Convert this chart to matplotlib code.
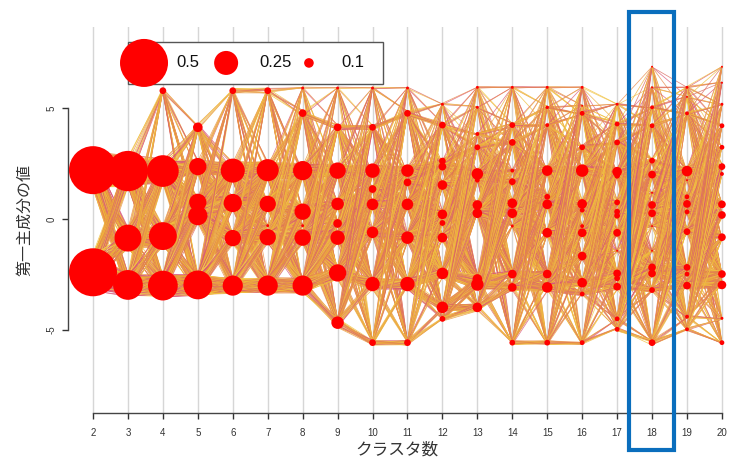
import numpy as np
import matplotlib.pyplot as plt
from matplotlib.collections import LineCollection
from matplotlib.patches import Rectangle

plt.rcParams['font.family'] = ['Liberation Sans', 'Noto Sans CJK JP', 'DejaVu Sans']

# cluster count on the x axis
n_clusters = list(range(2, 21))

# PC1 centre of every cluster, one list per cluster count
pc1_centers = [
    [2.2, -2.4],
    [2.16, -0.86, -2.97],
    [5.78, 2.16, -0.77, -3.0],
    [4.13, 2.36, 0.75, 0.15, -2.97],
    [5.78, 2.18, 0.72, -0.86, -3.0],
    [5.78, 2.2, 0.68, -0.3, -0.82, -3.0],
    [5.9, 4.77, 2.18, 0.33, -0.3, -0.84, -3.0],
    [5.9, 4.13, 2.18, 0.68, -0.2, -0.84, -2.43, -4.67],
    [5.9, 4.13, 2.18, 1.35, 0.66, -0.6, -2.93, -5.57],
    [5.9, 4.76, 2.18, 1.65, 0.66, -0.84, -2.93, -5.57],
    [5.17, 4.23, 2.61, 2.36, 1.53, 0.21, -0.18, -0.84, -2.45, -3.98, -4.5],
    [5.93, 5.03, 3.83, 3.23, 2.03, 1.75, 0.63, 0.26, -2.7, -2.95, -3.98],
    [5.93, 4.23, 3.45, 2.18, 1.68, 0.71, 0.26, -0.32, -2.48, -3.08, -5.57],
    [5.93, 5.03, 4.23, 2.18, 1.0, 0.66, -0.62, -2.48, -3.08, -5.57],
    [5.93, 5.1, 4.76, 3.23, 2.18, 0.68, 0.4, -0.32, -0.62, -1.67, -2.87, -3.38, -5.57],
    [5.17, 4.28, 3.45, 2.13, 1.95, 0.75, 0.33, 0.15, -0.62, -1.43, -2.45, -2.67, -3.05, -4.5, -4.97],
    [6.86, 5.93, 5.03, 4.2, 2.63, 2.0, 1.18, 0.63, 0.26, -0.32, -1.43, -2.18, -2.45, -3.2, -5.57],
    [5.93, 5.5, 4.76, 2.16, 1.75, 1.0, 0.68, 0.32, -0.57, -2.18, -2.48, -3.0, -4.4, -4.97],
    [6.86, 6.14, 5.17, 4.2, 3.23, 2.36, 2.03, 0.66, 0.18, -0.82, -2.48, -2.97, -4.47, -5.57],
]

# share of samples in each cluster
cluster_shares = [
    [0.5, 0.5],
    [0.42, 0.28, 0.31],
    [0.07, 0.33, 0.29, 0.31],
    [0.10, 0.18, 0.18, 0.20, 0.30],
    [0.07, 0.25, 0.19, 0.17, 0.21],
    [0.07, 0.23, 0.17, 0.03, 0.17, 0.21],
    [0.03, 0.08, 0.2, 0.17, 0.03, 0.17, 0.21],
    [0.03, 0.08, 0.17, 0.13, 0.09, 0.15, 0.18, 0.13],
    [0.03, 0.07, 0.15, 0.08, 0.12, 0.12, 0.15, 0.07],
    [0.03, 0.07, 0.13, 0.08, 0.12, 0.13, 0.15, 0.07],
    [0.03, 0.07, 0.07, 0.08, 0.1, 0.1, 0.06, 0.1, 0.12, 0.12, 0.06],
    [0.03, 0.03, 0.04, 0.06, 0.12, 0.05, 0.1, 0.1, 0.1, 0.13, 0.1],
    [0.03, 0.06, 0.07, 0.04, 0.07, 0.1, 0.1, 0.03, 0.09, 0.09, 0.06],
    [0.03, 0.035, 0.04, 0.11, 0.06, 0.1, 0.1, 0.09, 0.11, 0.06],
    [0.03, 0.02, 0.05, 0.06, 0.13, 0.1, 0.05, 0.04, 0.09, 0.09, 0.1, 0.05, 0.05],
    [0.03, 0.05, 0.06, 0.1, 0.06, 0.06, 0.06, 0.06, 0.08, 0.02, 0.08, 0.06, 0.08, 0.05, 0.05],
    [0.02, 0.02, 0.04, 0.05, 0.06, 0.08, 0.02, 0.08, 0.08, 0.02, 0.02, 0.08, 0.08, 0.06, 0.07],
    [0.03, 0.02, 0.04, 0.11, 0.02, 0.05, 0.08, 0.05, 0.07, 0.07, 0.05, 0.08, 0.04, 0.04],
    [0.02, 0.02, 0.03, 0.05, 0.05, 0.07, 0.04, 0.08, 0.08, 0.08, 0.08, 0.09, 0.03, 0.05],
]

legend_shares = [0.5, 0.25, 0.1]
legend_labels = ['0.5', '0.25', '0.1']

line_colors = ['#E8953A', '#F0BF3A', '#E98A48', '#EDB040', '#DC6A60', '#F2C84A', '#D9587A']

fig = plt.figure(figsize=(7.37, 4.59), dpi=100)
ax = fig.add_axes([68 / 737, 46 / 459, 669 / 737, 386 / 459])
ax.set_xlim(1.2845, 20.431)
ax.set_ylim(-8.739, 8.649)

# vertical grid
for k in n_clusters:
    ax.axvline(k, color='#D6D6D6', lw=1, zorder=0)

PX_PER_Y = 22.2      # pixels per PC1 unit
DIAM_PER_SHARE = 96  # circle diameter in px for share 1.0


def radius_y(p):
    return DIAM_PER_SHARE * p / 2 / PX_PER_Y


# flows between neighbouring cluster counts
segs, cols = [], []
LINES_PER_STEP = 900
GOLD = 0.6180339887
cnt = 0
for g in range(len(n_clusters) - 1):
    ya, pa = pc1_centers[g], cluster_shares[g]
    yb, pb = pc1_centers[g + 1], cluster_shares[g + 1]
    w = np.array([[p0 * p1 * (1 + 4 * np.exp(-((y0 - y1) / 1.0) ** 2))
                   for y1, p1 in zip(yb, pb)] for y0, p0 in zip(ya, pa)])
    w = w / w.sum() * LINES_PER_STEP
    x0, x1 = n_clusters[g], n_clusters[g + 1]
    for i, (y0, p0) in enumerate(zip(ya, pa)):
        r0 = 0.8 * radius_y(p0)
        for j, (y1, p1) in enumerate(zip(yb, pb)):
            r1 = 0.8 * radius_y(p1)
            n = int(round(w[i, j]))
            for m in range(n):
                f0 = ((m + 0.5) * GOLD + 0.13 * i) % 1.0
                f1 = ((m + 0.5) * GOLD * 1.7 + 0.29 * j) % 1.0
                segs.append([(x0, y0 + (f0 - 0.5) * 2 * r0),
                             (x1, y1 + (f1 - 0.5) * 2 * r1)])
                cols.append(line_colors[int((cnt * 0.381966) % 1.0 * len(line_colors))])
                cnt += 1

ax.add_collection(LineCollection(segs, colors=cols, linewidths=0.55, alpha=0.8, zorder=1))

# cluster nodes
for k, ys, ps in zip(n_clusters, pc1_centers, cluster_shares):
    sizes = [(DIAM_PER_SHARE * p * 0.72) ** 2 for p in ps]
    ax.scatter([k] * len(ys), ys, s=sizes, color='#FF0000', edgecolors='none', zorder=3)

# size legend
ax.add_patch(Rectangle((3.0, 6.08), 7.3, 1.89, facecolor='white',
                       edgecolor='#555555', lw=1.0, zorder=4))
leg_x = [3.46, 5.81, 8.18]
lab_x = [4.38, 6.75, 9.1]
for xc, xl, p, lab in zip(leg_x, lab_x, legend_shares, legend_labels):
    ax.scatter([xc], [7.03], s=(DIAM_PER_SHARE * p * 0.72) ** 2, color='#FF0000',
               edgecolors='none', zorder=5, clip_on=False)
    ax.text(xl, 7.03, lab, fontsize=12, va='center', ha='left', color='#111111', zorder=5)

# axes in base-graphics style
for s in ['top', 'right']:
    ax.spines[s].set_visible(False)
ax.spines['left'].set_bounds(-5, 5)
ax.spines['bottom'].set_bounds(2, 20)
for s in ['left', 'bottom']:
    ax.spines[s].set_color('#444444')
    ax.spines[s].set_linewidth(1.0)

ax.set_yticks([-5, 0, 5])
ax.set_yticklabels(['-5', '0', '5'], rotation=90, va='center')
ax.set_xticks(n_clusters)
ax.set_xticklabels([str(k) for k in n_clusters])
ax.tick_params(axis='both', labelsize=7, colors='#333333', length=4.5, width=1.0)
ax.tick_params(axis='y', pad=4)
ax.tick_params(axis='x', pad=6)

fig.text(397 / 737, 1 - 450 / 459, 'クラスタ数', fontsize=12, color='#333333',
         ha='center', va='center')
ax.set_ylabel('第一主成分の値', fontsize=11.5, color='#333333', labelpad=10)

# highlight box around k = 18
fig.patches.append(Rectangle((629 / 737, 9 / 459), 45 / 737, 438 / 459,
                             transform=fig.transFigure, fill=False,
                             edgecolor='#0A6EBD', lw=3.0, zorder=10))

fig.savefig('out.png', dpi=100)
